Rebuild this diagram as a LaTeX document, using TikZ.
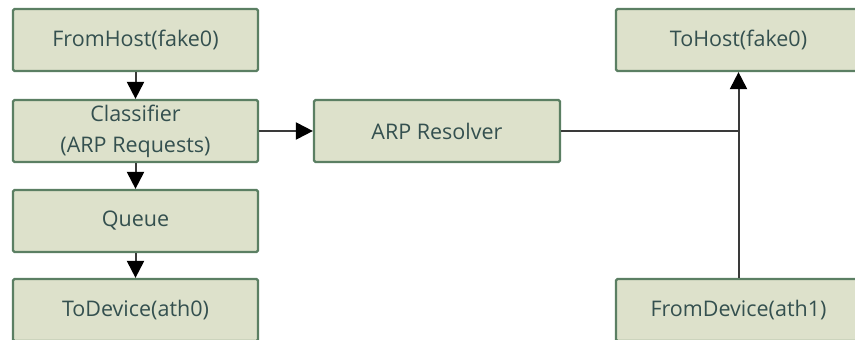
\documentclass[tikz,border=0pt]{standalone}
\usepackage{fontspec}
\setmainfont{Open Sans}
\usetikzlibrary{arrows.meta}
\definecolor{boxfill}{HTML}{DDE1CB}
\definecolor{boxline}{HTML}{5B7F63}
\definecolor{boxtext}{HTML}{34504F}
\definecolor{wire}{HTML}{3A3A3A}
\tikzset{
  elem/.style={draw=boxline, line width=2.2pt, fill=boxfill, rounded corners=1.5pt,
    minimum width=245pt, minimum height=62pt, inner sep=0pt,
    text=boxtext, font=\fontsize{21.5pt}{31pt}\selectfont, align=center},
  flow/.style={draw=wire, line width=2pt, -{Triangle[width=17pt,length=17pt,fill=black,color=black]}},
  wireline/.style={draw=wire, line width=2pt}
}
\begin{document}
\begin{tikzpicture}[x=1pt,y=-1pt]
\useasboundingbox (0,0) rectangle (855,340);
\clip (0,0) rectangle (855,340);
% left chain
\node[elem] (fromhost) at (135.5,40) {FromHost(fake0)};
\node[elem] (classifier) at (135.5,131) {Classifier\\(ARP Requests)};
\node[elem] (queue) at (135.5,221) {Queue};
\node[elem] (todevice) at (135.5,310) {ToDevice(ath0)};
% resolver
\node[elem, minimum width=246pt] (resolver) at (437,131) {ARP Resolver};
% right side
\node[elem] (tohost) at (738.5,40) {ToHost(fake0)};
\node[elem] (fromdevice) at (738.5,310) {FromDevice(ath1)};
\coordinate (join) at (fromdevice.north |- resolver.east);
% connectors
\draw[flow] (fromhost) -- (classifier);
\draw[flow] (classifier) -- (queue);
\draw[flow] (queue) -- (todevice);
\draw[flow] (classifier) -- (resolver);
\draw[wireline] (resolver.east) -- (join);
\draw[flow] (fromdevice.north) -- (tohost.south);
\end{tikzpicture}
\end{document}
